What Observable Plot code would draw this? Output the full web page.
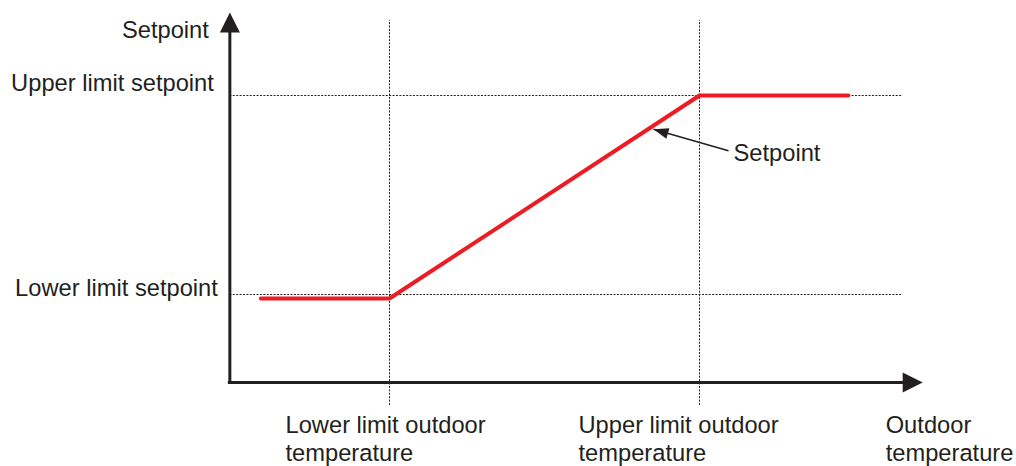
<!DOCTYPE html>
<html>
<head>
<meta charset="utf-8">
<script src="https://cdn.jsdelivr.net/npm/d3@7"></script>
<script src="https://cdn.jsdelivr.net/npm/@observablehq/plot@0.6"></script>
<style>
  html, body { margin: 0; padding: 0; background: #fff; }
</style>
</head>
<body>
<script>
// ---- Data (schematic units) ----
const outdoorLimits = [10, 30];                 // lower / upper limit outdoor temperature
const setpointLimits = [20, 60];                // lower / upper limit setpoint
const curveOutdoor = [1.7, 10, 30, 39.6];       // setpoint curve, x values
const curveSetpoint = [19.2, 19.2, 60, 60];     // setpoint curve, y values
const yLimitLabels = ["Lower limit setpoint", "Upper limit setpoint"];
const xLimitLabels = ["Lower limit outdoor\ntemperature", "Upper limit outdoor\ntemperature"];
const xAxisTitle = "Outdoor\ntemperature";
const yAxisTitle = "Setpoint";
const axisOrigin = [-0.3, 2.3];                 // where the two axes meet
const axisEnds = [44.4, 76.7];                  // x axis tip, y axis tip
const guideEnds = [43.1, -2.3, 75.1];           // horizontal guide end, vertical guide bottom/top
const annotationLabel = "Setpoint";
const annotationFrom = [31.87, 48.9];
const annotationTo = [27.03, 53.2];

// ---- Scales ----
const xDomain = outdoorLimits, xRange = [389, 699];
const yDomain = setpointLimits, yRange = [294, 95];
const xs = d3.scaleLinear(xDomain, xRange);
const ys = d3.scaleLinear(yDomain, yRange);

const ink = "#231f20";
const red = "#ed1c24";
const font = "'Liberation Sans', Arial, Helvetica, sans-serif";
const fs = 23.7;

// filled arrowhead with tip at the origin, pointing along (dx, dy) in screen space
function head(dx, dy, len, wid) {
  const n = Math.hypot(dx, dy), ux = dx / n, uy = dy / n;
  const bx = -ux * len, by = -uy * len, px = -uy * wid / 2, py = ux * wid / 2;
  return {draw(ctx) {
    ctx.moveTo(0, 0);
    ctx.lineTo(bx + px, by + py);
    ctx.lineTo(bx - px, by - py);
    ctx.closePath();
  }};
}

const [ox, oy] = axisOrigin;
const [xTip, yTip] = axisEnds;
const headLen = 20;
const annDx = xs(annotationTo[0]) - xs(annotationFrom[0]);
const annDy = ys(annotationTo[1]) - ys(annotationFrom[1]);

const plot = Plot.plot({
  width: 1016,
  height: 466,
  margin: 0,
  x: {domain: xDomain, range: xRange, axis: null},
  y: {domain: yDomain, range: yRange, axis: null},
  style: {fontFamily: font, background: "#fff", color: ink},
  marks: [
    // dotted guides
    Plot.ruleX(outdoorLimits, {y1: guideEnds[1], y2: guideEnds[2], stroke: ink, strokeWidth: 1, strokeDasharray: "2,1.4"}),
    Plot.ruleY(setpointLimits, {x1: ox, x2: guideEnds[0], stroke: ink, strokeWidth: 1, strokeDasharray: "2,1.4"}),
    // axes
    Plot.ruleX([ox], {y1: ys.invert(ys(oy) + 1.5), y2: ys.invert(ys(yTip) + headLen - 2), stroke: ink, strokeWidth: 3}),
    Plot.ruleY([oy], {x1: xs.invert(xs(ox) - 1.5), x2: xs.invert(xs(xTip) - headLen + 2), stroke: ink, strokeWidth: 3}),
    Plot.dot([[ox, yTip]], {x: d => d[0], y: d => d[1], symbol: head(0, -1, headLen, 20), fill: ink, stroke: "none", r: 10}),
    Plot.dot([[xTip, oy]], {x: d => d[0], y: d => d[1], symbol: head(1, 0, headLen, 20), fill: ink, stroke: "none", r: 10}),
    // setpoint curve
    Plot.line(curveOutdoor.map((x, i) => ({x, y: curveSetpoint[i]})), {x: "x", y: "y", stroke: red, strokeWidth: 4, strokeLinejoin: "miter"}),
    // annotation arrow
    Plot.link([{x1: annotationFrom[0], y1: annotationFrom[1], x2: annotationTo[0], y2: annotationTo[1]}],
      {x1: "x1", y1: "y1", x2: "x2", y2: "y2", stroke: ink, strokeWidth: 1.5}),
    Plot.dot([annotationTo], {x: d => d[0], y: d => d[1], symbol: head(annDx, annDy, 15, 11), fill: ink, stroke: "none", r: 8}),
    Plot.text([annotationLabel], {x: annotationFrom[0], y: annotationFrom[1], text: d => d, textAnchor: "start", lineAnchor: "middle", dx: 5, dy: 2.5, fontSize: fs, fill: ink}),
    // y axis labels
    Plot.text([yAxisTitle], {x: ox, y: yTip, text: d => d, textAnchor: "end", lineAnchor: "middle", dx: -21, dy: 18, fontSize: fs, fill: ink}),
    Plot.text([yLimitLabels[1]], {x: ox, y: setpointLimits[1], text: d => d, textAnchor: "end", lineAnchor: "middle", dx: -16, dy: -12, fontSize: fs, fill: ink}),
    Plot.text([yLimitLabels[0]], {x: ox, y: setpointLimits[0], text: d => d, textAnchor: "end", lineAnchor: "middle", dx: -12, dy: -6.5, fontSize: fs, fill: ink}),
    // x axis labels
    Plot.text([xLimitLabels[0]], {x: outdoorLimits[0], y: oy, text: d => d, textAnchor: "start", lineAnchor: "top", lineHeight: 1.2, dx: -104, dy: 30, fontSize: fs, fill: ink}),
    Plot.text([xLimitLabels[1]], {x: outdoorLimits[1], y: oy, text: d => d, textAnchor: "start", lineAnchor: "top", lineHeight: 1.2, dx: -121, dy: 30, fontSize: fs, fill: ink}),
    Plot.text([xAxisTitle], {x: xTip, y: oy, text: d => d, textAnchor: "start", lineAnchor: "top", lineHeight: 1.2, dx: -37, dy: 30, fontSize: fs, fill: ink})
  ]
});
document.body.appendChild(plot);
</script>
</body>
</html>
